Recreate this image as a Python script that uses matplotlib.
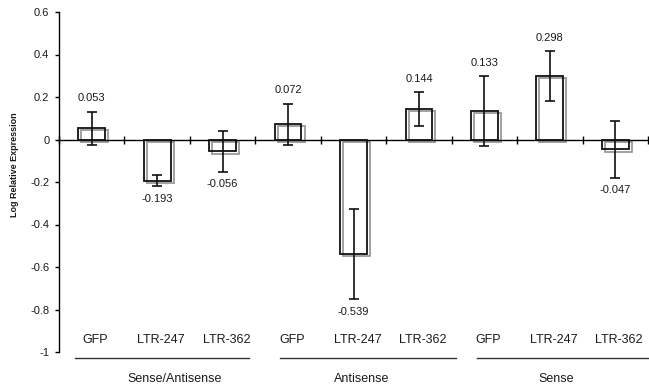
import matplotlib
matplotlib.use("Agg")
import matplotlib.pyplot as plt
import matplotlib.transforms as mtransforms
import numpy as np

plt.rcParams['font.family'] = ['Liberation Sans', 'DejaVu Sans']

groups = ["Sense/Antisense", "Antisense", "Sense"]
constructs = ["GFP", "LTR-247", "LTR-362"]
categories = [c for g in groups for c in constructs]
values = [0.053, -0.193, -0.056, 0.072, -0.539, 0.144, 0.133, 0.298, -0.047]
errors = [0.078, 0.028, 0.095, 0.097, 0.212, 0.080, 0.164, 0.119, 0.134]
value_labels = ["0.053", "-0.193", "-0.056", "0.072", "-0.539", "0.144", "0.133", "0.298", "-0.047"]
yticks = [0.6, 0.4, 0.2, 0, -0.2, -0.4, -0.6, -0.8, -1]
ytick_labels = ["0.6", "0.4", "0.2", "0", "-0.2", "-0.4", "-0.6", "-0.8", "-1"]

fig = plt.figure(figsize=(6.49, 3.90), dpi=100)
ax = fig.add_axes([59/649, 1-352/390, 589/649, 340/390])

x = np.arange(len(categories)) + 0.5
w = 0.41
txtc = '#1a1a1a'

# shadow bars (offset right/down)
shadow = mtransforms.offset_copy(ax.transData, fig=fig, x=2.2, y=-1.6, units='points')
ax.bar(x, values, width=w, fill=False, edgecolor='#9a9a9a', linewidth=1.3, transform=shadow, zorder=2)
ax.bar(x, values, width=w, color='white', alpha=0.0, zorder=2)
ax.bar(x, values, width=w, fill=False, edgecolor='#111111', linewidth=1.3, zorder=3)
ax.errorbar(x, values, yerr=errors, fmt='none', ecolor='#111111', elinewidth=1.2,
            capsize=3.3, capthick=1.2, zorder=4)

for xi, v, e, lab in zip(x, values, errors, value_labels):
    if v >= 0:
        ax.annotate(lab, (xi, v + e), xytext=(0, 9.5), textcoords='offset points',
                    ha='center', va='center', fontsize=8, color=txtc)
    else:
        ax.annotate(lab, (xi, v - e), xytext=(0, -9), textcoords='offset points',
                    ha='center', va='center', fontsize=8, color=txtc)

ax.set_xlim(0, 9)
ax.set_ylim(-1, 0.6)
ax.set_yticks(yticks)
ax.set_yticklabels(ytick_labels, fontsize=8, color=txtc)
ax.tick_params(axis='y', direction='out', length=3, width=1, pad=4)

ax.spines['top'].set_visible(False)
ax.spines['right'].set_visible(False)
ax.spines['bottom'].set_position(('data', 0))
ax.spines['left'].set_linewidth(1)
ax.spines['bottom'].set_linewidth(1)
ax.set_xticks(np.arange(0, 10))
ax.set_xticklabels([])
ax.tick_params(axis='x', direction='inout', length=6, width=1)

for xi, c in zip(x, categories):
    ax.text(xi + 0.06, -0.944, c, ha='center', va='center', fontsize=9, color=txtc)

group_lines = [(0.244, 2.91), (3.37, 6.06), (6.39, 9.0)]
group_label_x = [1.76, 4.62, 7.59]
for (a, b), gx, g in zip(group_lines, group_label_x, groups):
    ax.plot([a, b], [-1.028, -1.028], color='#333333', lw=1, clip_on=False)
    ax.text(gx, -1.127, g, ha='center', va='center', fontsize=9, color=txtc, clip_on=False)

fig.text(15/649, 1-165/390, "Log Relative Expression", rotation=90, ha='center', va='center',
         fontsize=6.5, fontweight='bold', color=txtc)

fig.savefig("out.png", dpi=100)
